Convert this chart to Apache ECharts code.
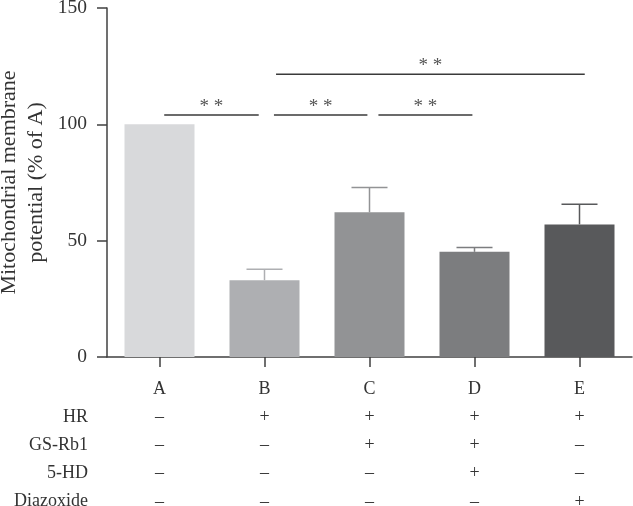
<!DOCTYPE html>
<html>
<head>
<meta charset="utf-8">
<script src="https://cdn.jsdelivr.net/npm/echarts@6/dist/echarts.min.js"></script>
<style>html,body{margin:0;padding:0;background:#fff}#c{width:633px;height:506px}</style>
</head>
<body>
<div id="c"></div>
<script>
var categories = ['A', 'B', 'C', 'D', 'E'];
var means = [100, 33.0, 62.2, 45.2, 57.0];
var upperErr = [100, 37.7, 72.9, 47.1, 65.7];
var barColors = ['#d8d9db', '#aeafb2', '#929395', '#7c7d7f', '#58595b'];
var yTicks = [0, 50, 100, 150];
var rowNames = ['HR', 'GS-Rb1', '5-HD', 'Diazoxide'];
var rowSigns = [
  ['–', '+', '+', '+', '+'],
  ['–', '–', '+', '+', '–'],
  ['–', '–', '–', '+', '–'],
  ['–', '–', '–', '–', '+']
];
// significance brackets: [xStart, xEnd (category index units), y value, label]
var sigLines = [
  [0.045, 0.945, 104.0, '* *'],
  [1.09, 1.98, 104.0, '* *'],
  [2.085, 2.98, 104.0, '* *'],
  [1.11, 4.05, 121.5, '* *']
];

var FONT = 'Liberation Serif';
var TXT = '#333333';
var AX = '#404040';

var chart = echarts.init(document.getElementById('c'), null, {renderer: 'canvas'});

var rich = {
  cat: {fontFamily: FONT, fontSize: 18, color: TXT, lineHeight: 28.2},
  s: {fontFamily: FONT, fontSize: 18, color: TXT, lineHeight: 28.2}
};

var option = {
  animation: false,
  grid: {left: 107, right: 1, top: 8, bottom: 149, containLabel: false, outerBoundsMode: 'none'},
  xAxis: [{
    type: 'category',
    data: categories,
    axisLine: {lineStyle: {color: AX, width: 1.5}},
    axisTick: {show: true, alignWithLabel: true, length: 10, lineStyle: {color: AX, width: 1.5}},
    axisLabel: {
      margin: 18,
      formatter: function (v, i) {
        var s = '{cat|' + v + '}';
        for (var r = 0; r < rowSigns.length; r++) s += '\n{s|' + rowSigns[r][i] + '}';
        return s;
      },
      rich: rich
    }
  }, {
    type: 'value', min: -0.5, max: 4.5, show: false
  }],
  yAxis: {
    type: 'value', min: yTicks[0], max: yTicks[yTicks.length - 1], interval: 50,
    name: 'Mitochondrial membrane\npotential (% of A)',
    nameLocation: 'middle', nameRotate: 90, nameGap: 57, nameMoveOverlap: false,
    nameTextStyle: {fontFamily: FONT, fontSize: 22, color: TXT, lineHeight: 27},
    axisLine: {show: true, onZero: false, lineStyle: {color: AX, width: 1.5}},
    axisTick: {show: true, length: 10, lineStyle: {color: AX, width: 1.5}},
    axisLabel: {fontFamily: FONT, fontSize: 19.5, color: TXT, margin: 20},
    splitLine: {show: false}
  },
  graphic: rowNames.map(function (n, i) {
    return {
      type: 'text', right: 633 - 88, top: 418 + i * 28.2 - 10,
      style: {text: n, fontFamily: FONT, fontSize: 18, fill: TXT, textAlign: 'right'}
    };
  }),
  series: [{
    type: 'bar',
    barWidth: 70,
    data: means.map(function (v, i) { return {value: v, itemStyle: {color: barColors[i]}}; }),
    z: 2
  }, {
    type: 'custom',
    xAxisIndex: 0,
    data: categories.map(function (c, i) { return [i, means[i], upperErr[i]]; }),
    renderItem: function (params, api) {
      var i = api.value(0);
      if (upperErr[i] <= means[i]) return null;
      var p0 = api.coord([i, api.value(1)]);
      var p1 = api.coord([i, api.value(2)]);
      var col = barColors[i];
      return {type: 'group', children: [
        {type: 'line', shape: {x1: p0[0], y1: p0[1], x2: p1[0], y2: p1[1]}, style: {stroke: col, lineWidth: 1.5}},
        {type: 'line', shape: {x1: p1[0] - 18, y1: p1[1], x2: p1[0] + 18, y2: p1[1]}, style: {stroke: col, lineWidth: 1.5}}
      ]};
    },
    z: 3
  }, {
    type: 'custom',
    xAxisIndex: 1,
    data: sigLines,
    renderItem: function (params, api) {
      var a = api.coord([api.value(0), api.value(2)]);
      var b = api.coord([api.value(1), api.value(2)]);
      return {type: 'group', children: [
        {type: 'line', shape: {x1: a[0], y1: a[1], x2: b[0], y2: a[1]}, style: {stroke: '#3a3a3a', lineWidth: 1.5}},
        {type: 'text', x: (a[0] + b[0]) / 2, y: a[1] + 1,
          style: {text: sigLines[params.dataIndex][3], fontFamily: FONT, fontSize: 19, fill: '#555', textAlign: 'center', textVerticalAlign: 'bottom'}}
      ]};
    },
    z: 4
  }]
};
chart.setOption(option);
</script>
</body>
</html>
